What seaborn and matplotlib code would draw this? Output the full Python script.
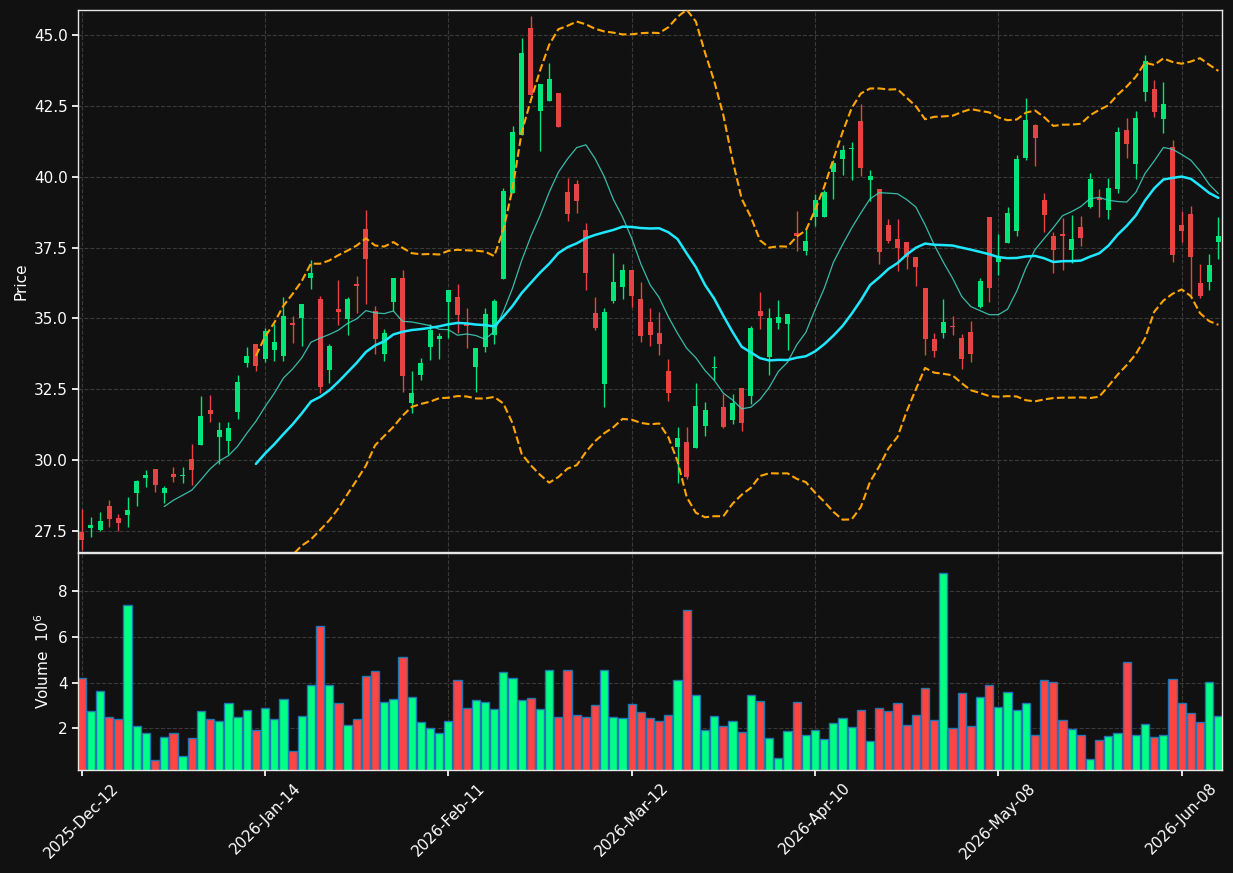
import numpy as np
import pandas as pd
import matplotlib
matplotlib.use('Agg')
import matplotlib.pyplot as plt
import seaborn as sns
from matplotlib.ticker import MultipleLocator, FormatStrFormatter

# daily OHLC (125 sessions)
opens = [
    27.46, 27.59, 27.55, 28.39, 27.97, 28.05, 28.85, 29.36, 29.70, 28.84,
    29.52, 29.44, 30.05, 30.55, 31.78, 30.80, 30.66, 31.69, 33.42, 34.10,
    33.57, 33.90, 33.67, 34.85, 35.00, 36.42, 35.67, 33.17, 35.32, 34.98,
    36.23, 38.14, 35.25, 33.73, 35.59, 36.42, 32.02, 33.02, 34.00, 34.27,
    35.59, 35.77, 34.80, 33.30, 34.00, 34.40, 36.38, 39.43, 41.46, 45.26,
    42.31, 42.66, 42.96, 39.47, 39.75, 38.13, 35.20, 32.67, 35.61, 36.10,
    36.69, 35.68, 34.89, 34.47, 33.13, 30.46, 30.64, 30.42, 31.19, 33.25,
    31.89, 31.40, 32.56, 32.26, 35.27, 33.63, 34.83, 34.80, 38.00, 37.37,
    38.57, 38.57, 40.16, 40.62, 40.97, 41.95, 39.87, 39.58, 38.30, 37.79,
    37.68, 37.18, 36.06, 34.27, 34.47, 34.71, 34.32, 34.51, 35.41, 38.59,
    36.98, 37.65, 38.07, 40.65, 41.81, 39.19, 37.89, 37.98, 37.41, 38.23,
    38.94, 39.26, 38.84, 39.58, 41.63, 40.44, 42.98, 43.10, 42.03, 41.05,
    38.29, 38.68, 36.26, 36.29, 37.68,
]
highs = [
    28.26, 27.99, 28.17, 28.60, 28.11, 28.70, 29.31, 29.65, 29.70, 29.09,
    29.76, 29.76, 30.57, 32.26, 32.31, 31.33, 31.35, 33.02, 34.00, 34.10,
    34.67, 34.80, 35.75, 35.10, 35.52, 37.07, 35.78, 34.10, 36.35, 35.77,
    36.49, 38.81, 35.45, 34.64, 36.44, 36.72, 33.14, 33.61, 34.80, 34.47,
    35.99, 36.21, 35.37, 33.97, 35.37, 35.68, 39.60, 41.79, 44.89, 45.67,
    43.28, 44.02, 42.96, 39.95, 39.89, 38.38, 35.75, 35.35, 37.31, 36.93,
    36.69, 36.28, 35.38, 35.23, 33.57, 31.18, 31.18, 32.71, 32.04, 33.68,
    32.34, 32.33, 32.56, 34.73, 35.94, 35.38, 35.65, 35.15, 38.78, 38.19,
    39.40, 39.52, 40.60, 41.11, 41.23, 42.58, 40.25, 39.58, 38.49, 38.49,
    37.68, 37.18, 36.06, 34.49, 35.69, 35.10, 34.45, 34.91, 36.43, 38.59,
    37.99, 38.93, 40.77, 42.76, 41.85, 39.43, 38.05, 38.54, 38.66, 38.60,
    40.13, 39.58, 39.95, 41.76, 42.07, 42.31, 44.30, 43.41, 43.34, 41.30,
    38.78, 38.96, 36.91, 37.27, 38.57,
]
lows = [
    26.83, 27.29, 27.50, 27.65, 27.50, 27.65, 28.38, 29.06, 28.87, 28.50,
    29.22, 29.20, 29.12, 30.55, 31.34, 29.87, 30.22, 31.45, 33.29, 33.14,
    33.45, 33.48, 33.48, 34.12, 34.02, 36.02, 32.38, 32.71, 34.77, 34.40,
    35.19, 35.50, 33.73, 33.48, 35.25, 32.41, 31.67, 32.83, 33.53, 33.57,
    34.31, 34.49, 33.96, 32.41, 33.82, 34.10, 36.38, 39.43, 41.46, 42.88,
    40.90, 42.66, 41.75, 38.44, 38.72, 35.99, 34.59, 31.88, 35.53, 35.69,
    35.39, 34.16, 34.02, 33.72, 32.10, 29.19, 29.34, 30.42, 30.85, 32.83,
    31.13, 31.28, 31.03, 31.98, 34.64, 32.99, 34.62, 33.88, 37.37, 37.25,
    38.25, 38.57, 39.21, 40.05, 39.87, 40.03, 39.13, 36.91, 37.65, 36.67,
    36.76, 36.15, 33.72, 33.64, 34.31, 34.43, 33.23, 33.47, 35.35, 35.59,
    36.54, 37.65, 37.92, 40.60, 40.38, 38.05, 36.60, 36.70, 36.94, 37.56,
    38.90, 38.56, 38.50, 39.42, 40.65, 39.91, 42.67, 42.09, 41.54, 37.00,
    37.68, 35.81, 35.72, 35.99, 37.09,
]
closes = [
    27.17, 27.72, 27.87, 27.92, 27.77, 28.24, 29.28, 29.49, 29.12, 29.03,
    29.42, 29.47, 29.65, 31.57, 31.62, 31.08, 31.12, 32.77, 33.69, 33.31,
    34.55, 34.18, 35.07, 34.76, 35.52, 36.61, 32.59, 34.04, 35.23, 35.70,
    36.13, 37.09, 34.29, 34.49, 36.44, 32.96, 32.38, 33.41, 34.58, 34.39,
    35.99, 35.13, 34.74, 33.94, 35.16, 35.63, 39.51, 41.59, 44.37, 42.88,
    43.28, 43.43, 41.75, 38.67, 39.14, 36.61, 34.67, 35.24, 36.29, 36.69,
    35.78, 34.37, 34.43, 34.10, 32.36, 30.79, 29.40, 31.91, 31.77, 33.27,
    31.18, 32.02, 31.30, 34.67, 35.10, 35.01, 35.06, 35.15, 37.90, 37.72,
    39.19, 39.46, 40.49, 40.93, 40.99, 40.30, 40.03, 37.33, 37.74, 37.49,
    37.15, 36.81, 34.27, 33.84, 34.86, 34.69, 33.57, 33.73, 36.33, 36.06,
    37.15, 38.73, 40.62, 42.01, 41.36, 38.63, 37.41, 37.92, 37.80, 37.83,
    39.92, 39.19, 39.60, 41.58, 41.15, 42.07, 44.08, 42.28, 42.58, 37.22,
    38.07, 37.15, 35.78, 36.88, 37.89,
]
# volume in millions
volumes = [
    4.19, 2.75, 3.64, 2.51, 2.42, 7.39, 2.11, 1.81, 0.63, 1.63,
    1.81, 0.81, 1.59, 2.77, 2.42, 2.33, 3.12, 2.51, 2.81, 1.94,
    2.90, 2.42, 3.29, 1.02, 2.55, 3.90, 6.47, 3.90, 3.12, 2.16,
    2.42, 4.29, 4.51, 3.16, 3.29, 5.12, 3.38, 2.29, 2.03, 1.81,
    2.33, 4.12, 2.90, 3.25, 3.16, 2.85, 4.47, 4.21, 3.25, 3.33,
    2.85, 4.56, 2.51, 4.56, 2.59, 2.51, 3.03, 4.56, 2.51, 2.46,
    3.07, 2.72, 2.46, 2.33, 2.59, 4.12, 7.17, 3.47, 1.94, 2.55,
    2.11, 2.33, 1.85, 3.47, 3.20, 1.59, 0.72, 1.90, 3.16, 1.72,
    1.94, 1.55, 2.24, 2.46, 2.07, 2.81, 1.46, 2.90, 2.77, 3.12,
    2.16, 2.59, 3.77, 2.38, 8.78, 2.03, 3.55, 2.11, 3.38, 3.90,
    2.94, 3.60, 2.81, 3.12, 1.72, 4.12, 4.03, 2.38, 1.98, 1.72,
    0.67, 1.50, 1.68, 1.81, 4.90, 1.72, 2.20, 1.63, 1.72, 4.16,
    3.12, 2.68, 2.29, 4.03, 2.55,
]
tick_labels = ['2025-Dec-12', '2026-Jan-14', '2026-Feb-11', '2026-Mar-12',
               '2026-Apr-10', '2026-May-08', '2026-Jun-08']

df = pd.DataFrame({'open': opens, 'high': highs, 'low': lows,
                   'close': closes, 'volume': volumes})
df['idx'] = np.arange(len(df))
df['dir'] = np.where(df['close'] >= df['open'], 'up', 'down')
df['ma10'] = df['close'].rolling(10).mean()
df['ma20'] = df['close'].rolling(20).mean()
std20 = df['close'].rolling(20).std(ddof=0)
df['bb_up'] = df['ma20'] + 2 * std20
df['bb_dn'] = df['ma20'] - 2 * std20

bg = '#111111'
sns.set_theme(style='dark', rc={
    'axes.facecolor': bg, 'figure.facecolor': bg,
    'axes.edgecolor': '#e6e6e6', 'axes.linewidth': 1.0,
    'text.color': 'white', 'axes.labelcolor': 'white',
    'xtick.color': 'white', 'ytick.color': 'white',
    'xtick.bottom': True, 'ytick.left': True,
    'xtick.major.size': 4, 'ytick.major.size': 4,
    'xtick.labelsize': 11, 'ytick.labelsize': 11, 'axes.labelsize': 11,
})
plt.rcParams['font.family'] = ['DejaVu Sans']

candle_col = {'up': '#00e57a', 'down': '#e84343'}
vol_col = {'up': '#00ff85', 'down': '#ff4444'}

fig = plt.figure(figsize=(12.33, 8.73), dpi=100)
ax = fig.add_axes([0.0633, 0.3677, 0.9278, 0.6209])
axv = fig.add_axes([0.0633, 0.118, 0.9278, 0.2486], sharex=ax)

# candles
cols = df['dir'].map(candle_col)
ax.vlines(df['idx'], df['low'], df['high'], colors=cols, linewidth=1.0, zorder=2)
body_lo = df[['open', 'close']].min(axis=1)
body_h = (df['close'] - df['open']).abs().clip(lower=0.04)
ax.bar(df['idx'], body_h, bottom=body_lo, width=0.55, color=cols, linewidth=0, zorder=3)

# moving averages and bands
sns.lineplot(data=df, x='idx', y='ma10', ax=ax, color='#3fd8c2', linewidth=0.9, alpha=0.85, zorder=4)
sns.lineplot(data=df, x='idx', y='ma20', ax=ax, color='#1ee8ff', linewidth=1.8, zorder=4)
sns.lineplot(data=df, x='idx', y='bb_up', ax=ax, color='orange', linewidth=1.5, linestyle='--', zorder=4)
sns.lineplot(data=df, x='idx', y='bb_dn', ax=ax, color='orange', linewidth=1.5, linestyle='--', zorder=4)

# volume
sns.barplot(data=df, x='idx', y='volume', hue='dir', palette=vol_col, dodge=False,
            native_scale=True, width=0.9, saturation=1, errorbar=None,
            edgecolor='#1f77b4', linewidth=1.0, legend=False, ax=axv)

ax.set_xlim(-0.4, len(df) - 0.6)
ax.set_ylim(26.76, 45.88)
axv.set_ylim(df['volume'].min() * 0.3, df['volume'].max() * 1.1)

ax.yaxis.set_major_locator(MultipleLocator(2.5))
ax.yaxis.set_major_formatter(FormatStrFormatter('%.1f'))
axv.yaxis.set_major_locator(MultipleLocator(2))

axv.set_xticks(np.arange(0, len(df), 20))
axv.set_xticklabels(tick_labels, rotation=45, ha='center')
ax.tick_params(axis='x', labelbottom=False, length=0)

ax.set_xlabel('')
ax.set_ylabel('Price')
axv.set_xlabel('')
axv.set_ylabel('Volume  $10^{6}$')

for a in (ax, axv):
    a.grid(True, linestyle='--', color='#3a3a3a', linewidth=0.8)
    a.set_axisbelow(True)
    for s in a.spines.values():
        s.set_visible(True)
        s.set_color('#e6e6e6')

fig.savefig('out.png', dpi=100, facecolor=bg)
